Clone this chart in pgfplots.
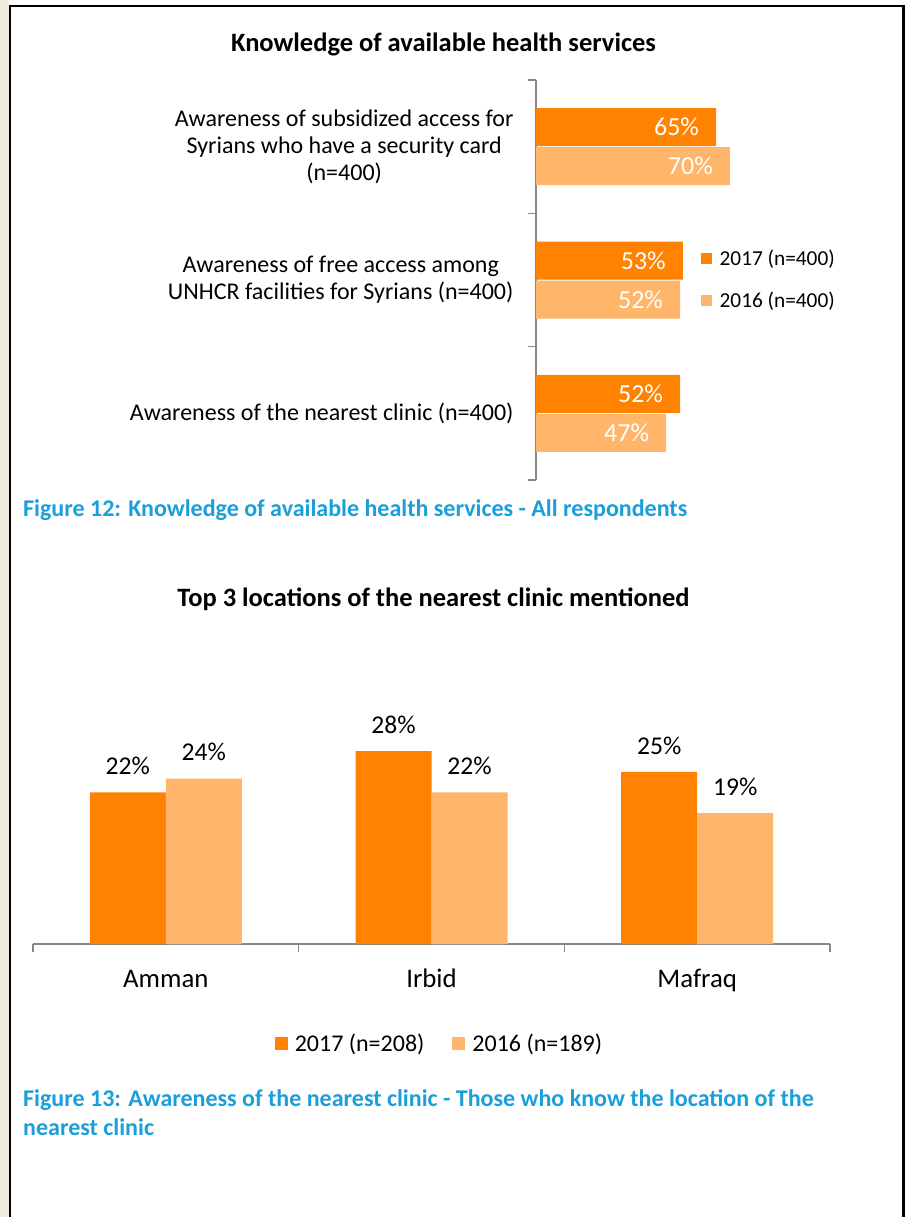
\documentclass[border=0pt]{standalone}
\usepackage{pgfplots}
\pgfplotsset{compat=1.18}
\usepackage{fontspec}
\setmainfont{Carlito}
\definecolor{dark}{HTML}{FF8200}
\definecolor{light}{HTML}{FFB56A}
\definecolor{axisgray}{HTML}{878787}
\definecolor{capblue}{HTML}{1A9FDB}
\definecolor{cream}{HTML}{EEEBE0}
\begin{document}
\begin{tikzpicture}
\useasboundingbox (0pt,0pt) rectangle (908pt,-1217pt);
\fill[white] (0pt,0pt) rectangle (908pt,-1217pt);
\fill[cream] (0pt,0pt) rectangle (9pt,-1217pt);
\draw[line width=2.5pt] (10.2pt,-1220pt) -- (10.2pt,-6.2pt) -- (903.5pt,-6.2pt) -- (903.5pt,-1220pt);

% titles and captions
\node[anchor=base, inner sep=0pt, font=\fontsize{26.5}{30}\selectfont\bfseries] at (443.5pt,-52pt) {Knowledge of available health services};
\node[anchor=base, inner sep=0pt, font=\fontsize{26.5}{30}\selectfont\bfseries] at (433.5pt,-606pt) {Top 3 locations of the nearest clinic mentioned};
\node[anchor=base west, inner sep=0pt, text=capblue, font=\fontsize{24}{28}\selectfont\bfseries] at (23pt,-516pt) {Figure 12: Knowledge of available health services - All respondents};
\node[anchor=base west, inner sep=0pt, text=capblue, font=\fontsize{24}{28}\selectfont\bfseries] at (23pt,-1106pt) {Figure 13: Awareness of the nearest clinic - Those who know the location of the};
\node[anchor=base west, inner sep=0pt, text=capblue, font=\fontsize{24}{28}\selectfont\bfseries] at (23pt,-1135pt) {nearest clinic};

% top chart
\begin{axis}[
 at={(536pt,-480pt)}, anchor=south west,
 scale only axis, width=277pt, height=400pt,
 xbar, bar width=38pt,
 xmin=0, xmax=100, ymin=-0.5, ymax=2.5,
 enlargelimits=false,
 hide x axis,
 axis y line*=left,
 y axis line style={draw=axisgray, line width=1.5pt, -},
 ytick={0,1,2},
 yticklabels={{Awareness of the nearest clinic (n=400)},{Awareness of free access among\\UNHCR facilities for Syrians (n=400)},{Awareness of subsidized access for\\Syrians who have a security card\\(n=400)}},
 yticklabel style={align=center, font=\fontsize{24}{27}\selectfont, xshift=-11pt},
 major tick length=8pt, tick align=outside,
 ytick style={draw=none},
 extra y ticks={-0.5,0.5,1.5,2.5}, extra y tick labels={},
 extra y tick style={ytick style={draw=axisgray, line width=1.5pt}},
 clip=false,
 point meta=x,
 /pgf/number format/assume math mode=true,
 nodes near coords={\pgfmathprintnumber{\pgfplotspointmeta}\%},
 every node near coord/.append style={anchor=east, text=white, font=\fontsize{26}{30}\selectfont, xshift=-13.5pt},
 legend style={at={(0.583,0.585)}, anchor=north west, draw=none, fill=none, font=\fontsize{21.3}{25}\selectfont, row sep=21pt},
 legend cell align=left,
 legend image code/.code={\fill[#1] (0pt,-5.5pt) rectangle (11pt,5.5pt); \path (17pt,0pt);},
]
\addplot[fill=dark, draw=none, bar shift=19.5pt] coordinates {(52,0) (53,1) (65,2)};
\addplot[fill=light, draw=none, bar shift=-19.5pt] coordinates {(47,0) (52,1) (70,2)};
\legend{2017 (n=400), 2016 (n=400)}
\end{axis}

% bottom chart
\begin{axis}[
 at={(33pt,-944pt)}, anchor=south west,
 scale only axis, width=797pt, height=206.7pt,
 ybar, bar width=76pt,
 xmin=-0.5, xmax=2.5, ymin=0, ymax=30,
 enlargelimits=false,
 hide y axis,
 axis x line*=bottom,
 x axis line style={draw=axisgray, line width=1.5pt, -},
 xtick={0,1,2},
 xticklabels={Amman,Irbid,Mafraq},
 xticklabel style={font=\fontsize{26.8}{30}\selectfont, anchor=base, yshift=-35pt},
 major tick length=8pt, tick align=outside,
 xtick style={draw=none},
 extra x ticks={-0.5,0.5,1.5,2.5}, extra x tick labels={},
 extra x tick style={xtick style={draw=axisgray, line width=1.5pt}},
 clip=false,
 point meta=y,
 /pgf/number format/assume math mode=true,
 nodes near coords={\pgfmathprintnumber{\pgfplotspointmeta}\%},
 every node near coord/.append style={text=black, font=\fontsize{25.6}{30}\selectfont, yshift=14pt},
 legend style={at={(0.51,-0.479)}, anchor=center, legend columns=2, draw=none, fill=none, font=\fontsize{24}{28}\selectfont, /tikz/every even column/.append style={column sep=26pt}},
 legend image code/.code={\fill[#1] (0pt,-6.5pt) rectangle (13pt,6.5pt); \path (18pt,0pt);},
]
\addplot[fill=dark, draw=none, bar shift=-38pt] coordinates {(0,22) (1,28) (2,25)};
\addplot[fill=light, draw=none, bar shift=38pt] coordinates {(0,24) (1,22) (2,19)};
\legend{2017 (n=208), 2016 (n=189)}
\end{axis}
\end{tikzpicture}
\end{document}
